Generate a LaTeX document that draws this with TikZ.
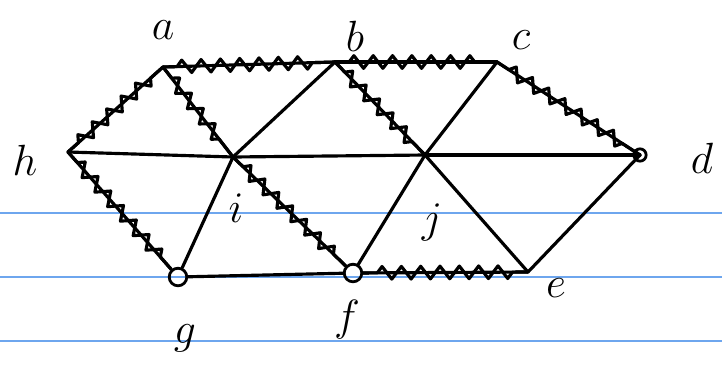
\documentclass[tikz,border=0pt]{standalone}
\usepackage{amsmath, amssymb}
\usepackage{tikz}
\usetikzlibrary{calc, decorations.pathmorphing}
\usepackage{xcolor}
\definecolor{ruleBlue}{RGB}{110, 166, 238}

\begin{document}
\begin{tikzpicture}[x=0.02cm, y=-0.02cm, font=\fontsize{27}{29}\selectfont]
  \tikzset{
    edge/.style={line width=1.8pt, line cap=round, line join=round},
    wavy/.style={edge, postaction={draw, decorate,
      decoration={zigzag, amplitude=3.6pt, segment length=11pt,
        pre length=8pt, post length=8pt}}},
    dot/.style={circle, draw, line width=1.6pt, minimum size=10pt, inner sep=0pt}
  }
  \useasboundingbox (0,0) rectangle (722,376);

  % Ruled lines of the page
  \foreach \y in {213, 277, 341} {
    \draw[ruleBlue, line width=0.8pt] (0,\y) -- (722,\y);
  }

  % Vertices
  \coordinate (a) at (163, 67);
  \coordinate (b) at (335, 62);
  \coordinate (c) at (497, 62);
  \coordinate (h) at (68, 152);
  \coordinate (i) at (233, 157);
  \coordinate (j) at (425, 155);
  \coordinate (d) at (640, 155);
  \node[dot] (g) at (178, 277) {};
  \node[dot] (f) at (353, 273) {};
  \coordinate (e) at (528, 272);
  \node[dot, minimum size=7pt] (dd) at (d) {};

  % Plain edges
  \foreach \u/\v in {h/i, i/j, j/d, b/i, c/j, i/g, g/f, f/j, j/e, e/d} {
    \draw[edge] (\u) -- (\v);
  }

  % Zigzag edges
  \foreach \u/\v in {h/a, a/b, b/c, c/d, a/i, b/j, h/g, i/f, f/e} {
    \draw[wavy] (\u) -- (\v);
  }

  % Labels
  \node (la) at (163, 30) {$a$};
  \node (lb) at (355, 36) {$b$};
  \node (lc) at (521, 40) {$c$};
  \node (ld) at (702, 158) {$d$};
  \node (le) at (556, 288) {$e$};
  \node (lf) at (347, 320) {$f$};
  \node (lg) at (185, 338) {$g$};
  \node (lh) at (25, 160) {$h$};
  \node (li) at (236, 208) {$i$};
  \node (lj) at (432, 222) {$j$};
\end{tikzpicture}
\end{document}
